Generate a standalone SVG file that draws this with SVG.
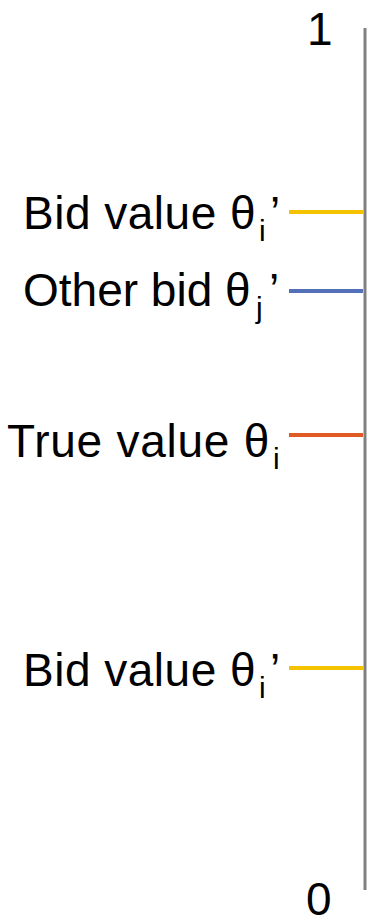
<svg xmlns="http://www.w3.org/2000/svg" width="368" height="918" viewBox="0 0 368 918">
  <style>
    .lbl { font-family: "Liberation Sans", Arial, sans-serif; font-size: 46px; fill: #000; }
    .sub { font-size: 30px; letter-spacing: 0; }
    .prime { letter-spacing: 0; }
    .num { font-family: "Liberation Sans", Arial, sans-serif; font-size: 46px; fill: #000; }
    .tick { stroke-width: 4; fill: none; }
  </style>
  <rect width="368" height="918" fill="#fff"/>
  <!-- value axis -->
  <g id="axis">
    <line x1="365" y1="28" x2="365" y2="890" stroke="#808080" stroke-width="3"/>
    <text class="num" x="307" y="45">1</text>
    <text class="num" x="306" y="915">0</text>
  </g>
  <g id="connectors">
    <line class="tick" x1="289" y1="212" x2="363" y2="212" stroke="#f5c200"/>
    <line class="tick" x1="289" y1="291" x2="363" y2="291" stroke="#5470b8"/>
    <line class="tick" x1="289" y1="435" x2="363" y2="435" stroke="#e05a24"/>
    <line class="tick" x1="289" y1="668" x2="363" y2="668" stroke="#f5c200"/>
  </g>
  <g id="bid-high">
    <text class="lbl" x="23" y="229" letter-spacing="0.5">Bid value θ<tspan class="sub" x="259" dy="12">i</tspan><tspan class="prime" x="270" dy="-12">’</tspan></text>
  </g>
  <g id="other-bid">
    <text class="lbl" x="23" y="306">Other bid θ<tspan class="sub" x="256" dy="12">j</tspan><tspan class="prime" x="269" dy="-12">’</tspan></text>
  </g>
  <g id="true-value">
    <text class="lbl" x="7" y="457" letter-spacing="0.75">True value θ<tspan class="sub" x="273" dy="12">i</tspan></text>
  </g>
  <g id="bid-low">
    <text class="lbl" x="23" y="686" letter-spacing="0.5">Bid value θ<tspan class="sub" x="259" dy="12">i</tspan><tspan class="prime" x="270" dy="-12">’</tspan></text>
  </g>
</svg>
